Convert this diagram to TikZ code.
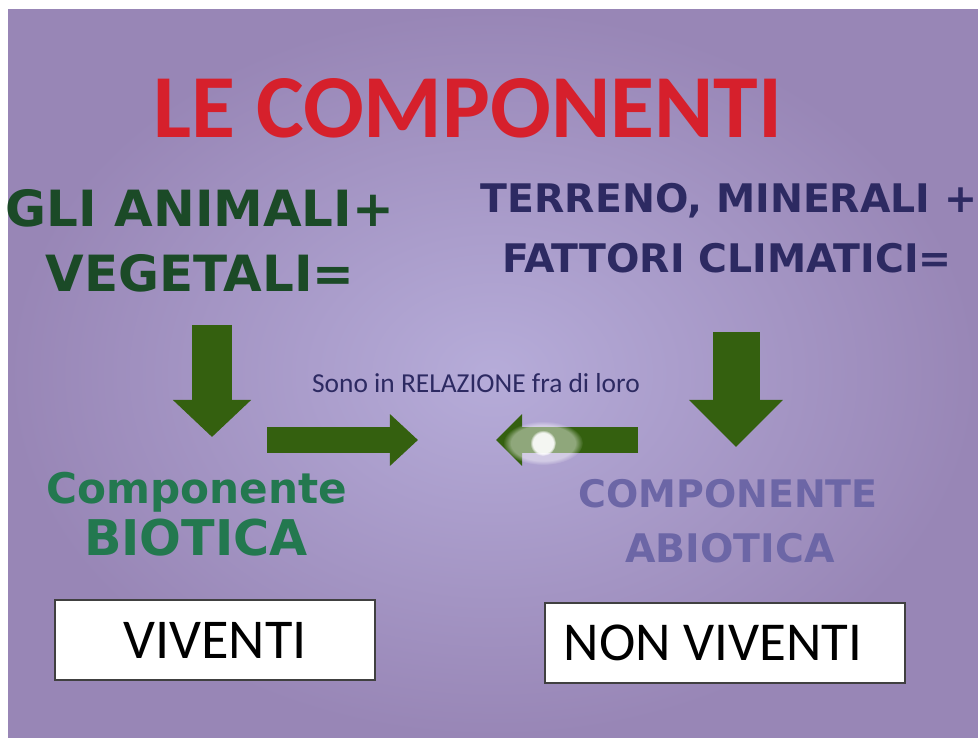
\documentclass[tikz,border=0pt]{standalone}
\usepackage{fontspec}
\setmainfont{Carlito}
\newfontfamily\handfont{DejaVu Sans}
\usetikzlibrary{arrows.meta,fadings}
\definecolor{screenin}{HTML}{B6ACD9}
\definecolor{screenout}{HTML}{9886B6}
\definecolor{titlered}{HTML}{D6202C}
\definecolor{leafgreen}{HTML}{1B4A27}
\definecolor{biogreen}{HTML}{23784F}
\definecolor{inkblue}{HTML}{2D2A62}
\definecolor{abioviolet}{HTML}{6C66A6}
\definecolor{arrowgreen}{HTML}{34600F}
\begin{document}
\begin{tikzpicture}[x=0.025cm,y=-0.025cm,
  hand/.style={font=\handfont\bfseries\fontsize{#1}{#1}\selectfont,anchor=base},
  plain/.style={font=\fontsize{#1}{#1}\selectfont,anchor=base},
  livebox/.style={draw=black!75,line width=1pt,fill=white,minimum width=#1,minimum height=2cm,font=\fontsize{40}{40}\selectfont}]
\useasboundingbox (0,0) rectangle (978,740);
\fill[white] (0,0) rectangle (978,740);
\shade[inner color=screenin,outer color=screenout] (8,10) rectangle (978,737);
% titolo
\node[plain=64,text=titlered,font=\bfseries\fontsize{64}{64}\selectfont] (title) at (468,138) {LE COMPONENTI};
% colonna sinistra
\node[hand=35.5,text=leafgreen] (anim) at (200,227) {GLI ANIMALI+};
\node[hand=35.5,text=leafgreen] (veg) at (200,292) {VEGETALI=};
\node[hand=30,text=biogreen] (comp) at (197,503) {Componente};
\node[hand=35,text=biogreen] (bio) at (196,555) {BIOTICA};
% colonna destra
\node[hand=28,text=inkblue] (terr) at (729,213) {TERRENO, MINERALI +};
\node[hand=28,text=inkblue] (fatt) at (727,273) {FATTORI CLIMATICI=};
\node[hand=27,text=abioviolet] (COMP) at (728,507) {COMPONENTE};
\node[hand=28,text=abioviolet] (abio) at (730,562) {ABIOTICA};
% relazione
\node[plain=19.5,text=inkblue] (rel) at (476,393) {Sono in RELAZIONE fra di loro};
\coordinate (ldtop) at (212,325);
\coordinate (ldtip) at (212,437);
\coordinate (rdtop) at (736,332);
\coordinate (rdtip) at (736,447);
\coordinate (rastart) at (267,440);
\coordinate (ratip) at (418,440);
\coordinate (lastart) at (638,440);
\coordinate (latip) at (496,440);
\draw[arrowgreen,line width=0.975cm,-{Triangle[width=1.9cm,length=0.925cm]}] (ldtop) -- (ldtip);
\draw[arrowgreen,line width=1.175cm,-{Triangle[width=2.275cm,length=1.175cm]}] (rdtop) -- (rdtip);
\draw[arrowgreen,line width=0.65cm,-{Triangle[width=1.25cm,length=0.7cm]}] (rastart) -- (ratip);
\draw[arrowgreen,line width=0.65cm,-{Triangle[width=1.25cm,length=0.65cm]}] (lastart) -- (latip);
% riflesso
\coordinate (glare) at (543,443);
\fill[white,opacity=0.45,path fading=circle with fuzzy edge 20 percent] (glare) ellipse (40 and 22);
\fill[white,opacity=0.9,path fading=circle with fuzzy edge 20 percent] (glare) circle (13);
% riquadri
\node[livebox=8cm] (viv) at (215,640) {VIVENTI};
\node[livebox=9cm,font=\fontsize{39}{39}\selectfont] (nonviv) at (725,643) {NON VIVENTI\hspace*{0.6cm}\mbox{}};
\end{tikzpicture}
\end{document}
